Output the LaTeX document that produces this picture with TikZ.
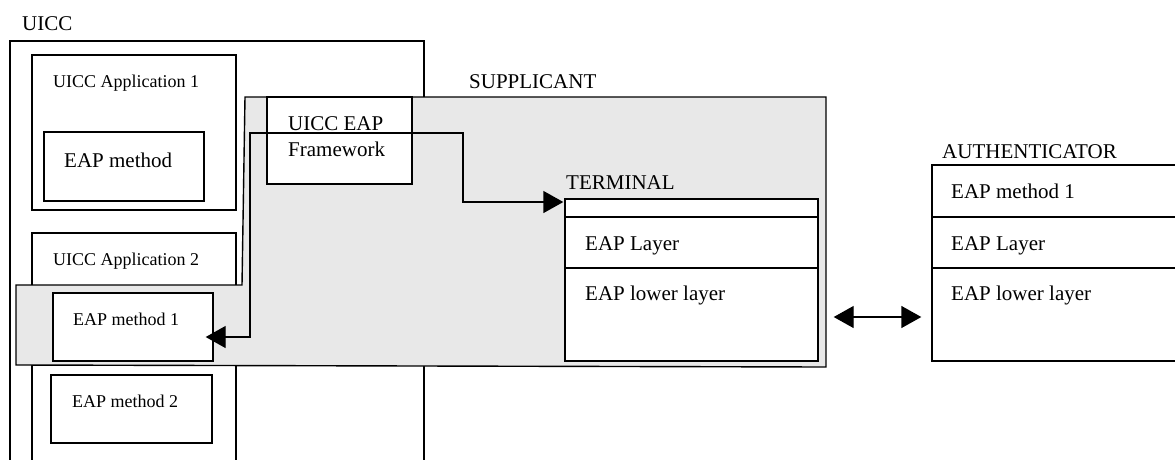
\documentclass[tikz,border=0pt]{standalone}
\usepackage{fontspec}
\setmainfont{Liberation Serif}
\usetikzlibrary{arrows.meta}
\definecolor{suppgray}{HTML}{E8E8E8}
\tikzset{
	lbl/.style={anchor=base west,inner sep=0pt,font=\fontsize{21}{24}\selectfont},
	smalllbl/.style={lbl,font=\fontsize{18}{21}\selectfont},
	box/.style={draw,line width=1.4pt,fill=white,inner sep=0pt},
	link/.style={line width=1.4pt,{Triangle[length=20pt,width=22pt]}-{Triangle[length=20pt,width=22pt]}},
}
\begin{document}
\begin{tikzpicture}[x=1pt,y=-1pt]
				\useasboundingbox (0,0) rectangle (1175,459);
				\clip (0,0) rectangle (1175,459);
				% UICC card and its applications
				\draw[line width=1.4pt] (10,470) -- (10,41) -- (424,41) -- (424,470);
				\node[box,minimum width=204,minimum height=155] (app1) at (134,132.5) {};
				\node[box,minimum width=160,minimum height=69] (meth) at (124,166.5) {};
				\draw[line width=1.4pt] (32,470) |- (236,233) -- (236,470);
				\node[box,minimum width=161,minimum height=68] (meth2) at (131.5,409) {};
				% supplicant area
				\filldraw[fill=suppgray,line width=1.4pt] (16,285) -- (242,285) -- (245,97) -- (826,97) -- (826,367) -- (16,365) -- cycle;
				\node[box,minimum width=160,minimum height=68] (meth1) at (133,327) {};
				\node[box,minimum width=145,minimum height=87] (fw) at (339.5,140.5) {};
				\node[box,minimum width=253,minimum height=18] (termtop) at (691.5,208) {};
				\node[box,minimum width=253,minimum height=51] (termeap) at (691.5,242.5) {};
				\node[box,minimum width=253,minimum height=93] (termlow) at (691.5,314.5) {};
				% authenticator
				\node[box,minimum width=268,minimum height=52] (authm) at (1066,191) {};
				\node[box,minimum width=268,minimum height=51] (autheap) at (1066,242.5) {};
				\node[box,minimum width=268,minimum height=93] (authlow) at (1066,314.5) {};
				% labels
				\node[lbl] (uicc) at (22,30) {UICC};
				\node[smalllbl] (app1txt) at (53,87) {UICC Application 1};
				\node[lbl] (methtxt) at (64,167) {EAP method};
				\node[smalllbl] (app2txt) at (53,265) {UICC Application 2};
				\node[smalllbl] (meth1txt) at (73,325) {EAP method 1};
				\node[smalllbl] (meth2txt) at (72,407) {EAP method 2};
				\node[lbl] (supp) at (469,88) {SUPPLICANT};
				\node[lbl] (fwtxt) at (288,130) {UICC EAP};
				\node[lbl] (fwtxt2) at (288,156) {Framework};
				\node[lbl] (term) at (566,189) {TERMINAL};
				\node[lbl] (termeaptxt) at (585,250) {EAP Layer};
				\node[lbl] (termlowtxt) at (585,300) {EAP lower layer};
				\node[lbl] (auth) at (942,158) {AUTHENTICATOR};
				\node[lbl] (authmtxt) at (951,198) {EAP method 1};
				\node[lbl] (autheaptxt) at (951,250) {EAP Layer};
				\node[lbl] (authlowtxt) at (951,300) {EAP lower layer};
				% connectors
				\coordinate (bendA) at (250,133);
				\coordinate (bendB) at (463,133);
				\draw[link] ([shift={(-8,10)}]meth1.east) -| (bendA) -- (bendB) |- ([shift={(-1,-6)}]termtop.west);
				\draw[link] ([shift={(15,2.5)}]termlow.east) -- ([shift={(-10,2.5)}]authlow.west);
			\end{tikzpicture}
\end{document}
